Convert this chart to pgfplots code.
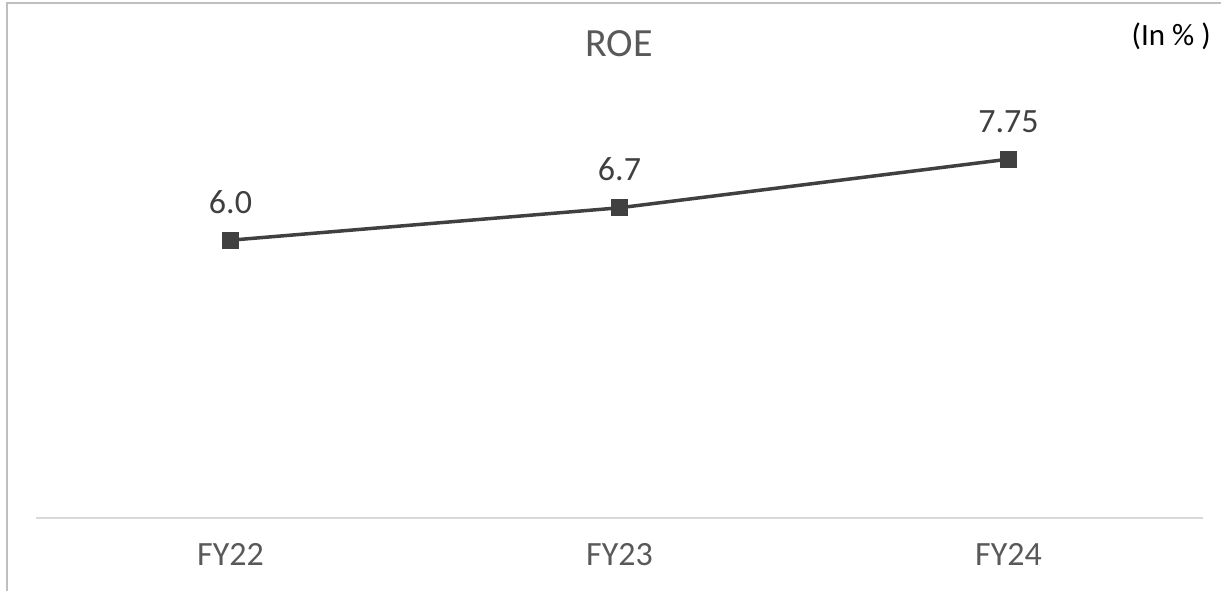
\documentclass[border=0pt]{standalone}
\usepackage{pgfplots}
\pgfplotsset{compat=1.18}
\usepackage{fontspec}
\setmainfont{Carlito}
\definecolor{frameg}{RGB}{191,191,191}
\definecolor{axisg}{RGB}{217,217,217}
\definecolor{labg}{RGB}{89,89,89}
\definecolor{dark}{RGB}{64,64,64}
\begin{document}
\begin{tikzpicture}[x=1bp,y=1bp]
\useasboundingbox (0,0) rectangle (1221,591);
\draw[frameg, line width=2bp] (6.5,0) -- (6.5,588) -- (1221,588);
\begin{axis}[at={(36bp,73bp)}, anchor=south west, scale only axis,
  width=1167bp, height=463bp,
  xmin=-0.5, xmax=2.5, ymin=0, ymax=10,
  axis x line=bottom, axis y line=none,
  x axis line style={-, draw=axisg, line width=2bp},
  xtick={0,1,2}, xticklabels={FY22,FY23,FY24},
  major tick length=0pt, ytick=\empty,
  xticklabel style={font=\fontsize{34bp}{40bp}\selectfont, text=labg, anchor=base, yshift=-48bp},
  clip=false,
  nodes near coords, point meta=explicit symbolic,
  nodes near coords style={anchor=base, yshift=27bp, font=\fontsize{34bp}{40bp}\selectfont, text=dark},
]
\addplot[color=dark, line width=3.5bp, mark=square*, mark size=8bp,
  mark options={fill=dark, line width=1bp, rounded corners=1.5bp}]
  coordinates {(0,6.0)[6.0] (1,6.7)[6.7] (2,7.75)[7.75]};
\end{axis}
\node[anchor=base, text=labg, font=\fontsize{40bp}{48bp}\selectfont] at (619,534) {ROE};
\node[anchor=base east, inner sep=0pt, text=black, font=\fontsize{31bp}{37bp}\selectfont] at (1211,545) {(In \% )};
\end{tikzpicture}
\end{document}
